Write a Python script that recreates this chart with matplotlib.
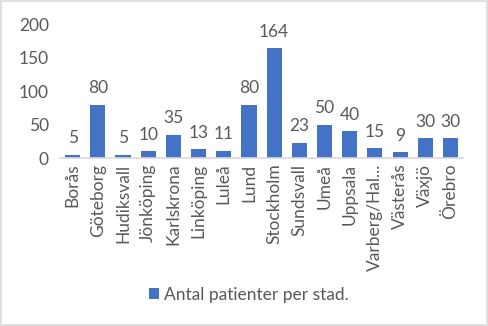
import matplotlib.pyplot as plt
import numpy as np

# data
cities = ['Borås', 'Göteborg', 'Hudiksvall', 'Jönköping', 'Karlskrona', 'Linköping',
          'Luleå', 'Lund', 'Stockholm', 'Sundsvall', 'Umeå', 'Uppsala',
          'Varberg/Hal...', 'Västerås', 'Växjö', 'Örebro']
patients = [5, 80, 5, 10, 35, 13, 11, 80, 164, 23, 50, 40, 15, 9, 30, 30]
yticks = [0, 50, 100, 150, 200]
series_name = 'Antal patienter per stad.'

plt.rcParams['font.family'] = ['Lato', 'DejaVu Sans']
txt = '#595959'
fs = 12.5

fig = plt.figure(figsize=(4.88, 3.26), dpi=100)
ax = fig.add_axes([0.123, 0.515, 0.826, 0.411])

x = np.arange(len(cities))
bars = ax.bar(x, patients, width=0.6, color='#4472C4', label=series_name)
for xi, v in zip(x, patients):
    ax.annotate(str(v), (xi, v), xytext=(0, 6), textcoords='offset points',
                ha='center', va='bottom', fontsize=fs, color=txt)

ax.set_xlim(-0.5, len(cities) - 0.5)
ax.set_ylim(0, 200)
ax.set_yticks(yticks)
ax.set_xticks(x)
ax.set_xticklabels(cities, rotation=90, fontsize=fs, color=txt)
ax.tick_params(axis='y', labelsize=fs, labelcolor=txt, length=0, pad=8)
ax.tick_params(axis='x', length=0, pad=4)
for s in ['top', 'right', 'left']:
    ax.spines[s].set_visible(False)
ax.spines['bottom'].set_color('#D9D9D9')
ax.spines['bottom'].set_linewidth(1.2)

fig.legend(handles=[bars], labels=[series_name], loc='center', bbox_to_anchor=(0.51, 0.095),
           frameon=False, fontsize=fs, labelcolor=txt, handlelength=0.6, handleheight=0.6,
           handletextpad=0.3)

# light border around the chart area
fig.patches.append(plt.Rectangle((0.003, 0.004), 0.994, 0.992, transform=fig.transFigure,
                                 fill=False, edgecolor='#D9D9D9', linewidth=1.2))

fig.savefig('out.png', dpi=100)
